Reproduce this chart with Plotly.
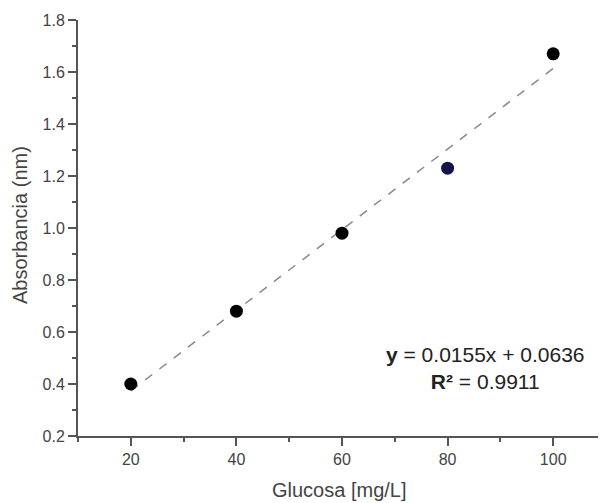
import plotly.graph_objects as go

glucosa = [20, 40, 60, 80, 100]
absorbancia = [0.40, 0.68, 0.98, 1.23, 1.67]
point_colors = ["#000000", "#000000", "#000000", "#14144a", "#000000"]
slope = 0.0155
intercept = 0.0636
r2 = 0.9911
fit_x = [20, 100]
fit_y = [slope * x + intercept for x in fit_x]
x_ticks = [20, 40, 60, 80, 100]
y_ticks = [0.2, 0.4, 0.6, 0.8, 1.0, 1.2, 1.4, 1.6, 1.8]

FONT = "Liberation Sans, Arial"

fig = go.Figure()
fig.add_trace(go.Scatter(x=fit_x, y=fit_y, mode="lines",
                         line=dict(color="#8a8a8a", width=1.5, dash="dash"),
                         showlegend=False, hoverinfo="skip"))
fig.add_trace(go.Scatter(x=glucosa, y=absorbancia, mode="markers",
                         marker=dict(color=point_colors, size=13, line=dict(width=0)),
                         showlegend=False))

fig.add_annotation(x=0.771, y=0.163, xref="paper", yref="paper",
                   xanchor="center", yanchor="middle",
                   text=f"<b>y</b> = {slope}x + {intercept}<br><b>R²</b> = {r2}",
                   showarrow=False, align="center",
                   font=dict(family=FONT, size=21, color="#222222"))

fig.add_annotation(x=0.496, y=-0.13, xref="paper", yref="paper",
                   xanchor="center", yanchor="middle",
                   text="Glucosa [mg/L]", showarrow=False,
                   font=dict(family=FONT, size=20, color="#444444"))
fig.add_annotation(x=-0.11, y=0.507, xref="paper", yref="paper", xanchor="center",
                   yanchor="middle", textangle=-90,
                   text="Absorbancia (nm)", showarrow=False,
                   font=dict(family=FONT, size=20, color="#444444"))

axis_common = dict(showgrid=False, zeroline=False, showline=True, linecolor="#555555",
                   linewidth=2, ticks="outside", ticklen=8, tickwidth=1.5, tickcolor="#555555",
                   automargin=False,
                   tickfont=dict(family=FONT, size=16, color="#444444"),
                   minor=dict(ticks="outside", ticklen=4, tickwidth=1.5, tickcolor="#555555"))

fig.update_xaxes(range=[10, 110], tickvals=x_ticks,
                 minor_dtick=10, minor_tick0=0, **axis_common)
fig.update_yaxes(range=[0.2, 1.8], tickvals=y_ticks, ticktext=[f"{v:.1f}" for v in y_ticks],
                 minor_dtick=0.1, minor_tick0=0.0, **axis_common)

fig.update_layout(width=598, height=495, plot_bgcolor="white", paper_bgcolor="white",
                  margin=dict(l=70, r=0, t=12, b=67))

fig.write_html("out.html")
